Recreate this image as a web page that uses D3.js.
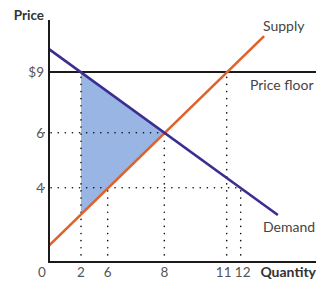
<!DOCTYPE html>
<meta charset="utf-8">
<script src="https://d3js.org/d3.v7.min.js"></script>
<style>
  body { margin: 0; background: #fff; }
  text { font-family: Lato, "Open Sans", sans-serif; }
</style>
<div id="chart"></div>
<script>
  // schematic axes: tick values and the matching knots of a piecewise scale
  var qtyTicks = [2, 6, 8, 11, 12];
  var priceTicks = [4, 6, 9];
  var priceFloor = 9;

  var demand = [{ q: 0, p: 9.88 }, { q: 14.7, p: 2.53 }];
  var supply = [{ q: 0, p: 0.88 }, { q: 13.7, p: 10.38 }];
  // deadweight loss triangle
  var dwl = [{ q: 2, p: 9 }, { q: 8, p: 6 }, { q: 2, p: 2.55 }];

  // dotted guides: [q, p] corners
  var vGuides = [{ q: 2, p: 9 }, { q: 6, p: 4 }, { q: 8, p: 6 }, { q: 11, p: 9 }, { q: 12, p: 4 }];
  var hGuides = [{ q: 8, p: 6 }, { q: 12, p: 4 }];

  var width = 329, height = 289;

  var svg = d3.select("#chart")
    .append("svg")
    .attr("width", width)
    .attr("height", height);

  var x = d3.scaleLinear()
    .domain([0, 2, 6, 8, 11, 12, 15, 17.5])
    .range([49, 81, 107.7, 164.3, 226.7, 240.7, 282, 316]);

  var y = d3.scaleLinear()
    .domain([0, 4, 6, 9, 11])
    .range([262, 187.7, 132.7, 72, 20]);

  var line = d3.line()
    .x(function (d) { return x(d.q); })
    .y(function (d) { return y(d.p); });

  // shaded area
  svg.append("path")
    .attr("d", line(dwl) + "Z")
    .attr("fill", "#98b5e3");

  // dotted guides
  var dots = svg.append("g")
    .attr("stroke", "#111")
    .attr("stroke-width", 1.6)
    .attr("stroke-linecap", "round")
    .attr("stroke-dasharray", "0.1 7");

  dots.selectAll(".v")
    .data(vGuides)
    .enter().append("line")
    .attr("x1", function (d) { return x(d.q); })
    .attr("x2", function (d) { return x(d.q); })
    .attr("y1", y(0))
    .attr("y2", function (d) { return y(d.p); });

  dots.selectAll(".h")
    .data(hGuides)
    .enter().append("line")
    .attr("x1", x(0) - 5)
    .attr("x2", function (d) { return x(d.q); })
    .attr("y1", function (d) { return y(d.p); })
    .attr("y2", function (d) { return y(d.p); });

  // price floor
  svg.append("line")
    .attr("x1", x(0)).attr("x2", x(17.5))
    .attr("y1", y(priceFloor)).attr("y2", y(priceFloor))
    .attr("stroke", "#1a1a1a")
    .attr("stroke-width", 2);

  // supply and demand
  svg.append("path")
    .attr("d", line(supply))
    .attr("stroke", "#e0622a")
    .attr("stroke-width", 2.6)
    .attr("fill", "none");

  svg.append("path")
    .attr("d", line(demand))
    .attr("stroke", "#3b2e91")
    .attr("stroke-width", 2.6)
    .attr("fill", "none");

  // axes
  svg.append("path")
    .attr("d", "M" + x(0) + "," + y(11) + "V" + y(0) + "H" + x(17.5))
    .attr("stroke", "#1a1a1a")
    .attr("stroke-width", 2)
    .attr("fill", "none");

  // tick labels
  svg.selectAll(".qt")
    .data(qtyTicks)
    .enter().append("text")
    .attr("x", function (d) { return x(d) + (d === 11 ? -3 : d === 12 ? 2 : 0); })
    .attr("y", 277)
    .attr("text-anchor", "middle")
    .attr("font-size", 13.5)
    .attr("fill", "#555")
    .text(function (d) { return d; });

  svg.append("text")
    .attr("x", x(0) - 7).attr("y", 277)
    .attr("text-anchor", "middle")
    .attr("font-size", 13.5)
    .attr("fill", "#555")
    .text("0");

  svg.selectAll(".pt")
    .data(priceTicks)
    .enter().append("text")
    .attr("x", x(0) - 5)
    .attr("y", function (d) { return y(d) + 5; })
    .attr("text-anchor", "end")
    .attr("font-size", 13.5)
    .attr("fill", "#555")
    .text(function (d) { return d === 9 ? "$" + d : d; });

  // axis titles
  svg.append("text")
    .attr("x", 44).attr("y", 20)
    .attr("text-anchor", "end")
    .attr("font-size", 13.5)
    .attr("font-weight", "bold")
    .attr("fill", "#333")
    .text("Price");

  svg.append("text")
    .attr("x", 316).attr("y", 277)
    .attr("text-anchor", "end")
    .attr("font-size", 14)
    .attr("font-weight", "bold")
    .attr("fill", "#333")
    .text("Quantity");

  // curve labels
  svg.append("text")
    .attr("x", 263).attr("y", 31)
    .attr("font-size", 14)
    .attr("fill", "#444")
    .text("Supply");

  svg.append("text")
    .attr("x", 250).attr("y", 90)
    .attr("font-size", 14)
    .attr("fill", "#444")
    .text("Price floor");

  svg.append("text")
    .attr("x", 263).attr("y", 232)
    .attr("font-size", 14)
    .attr("fill", "#444")
    .text("Demand");
</script>
